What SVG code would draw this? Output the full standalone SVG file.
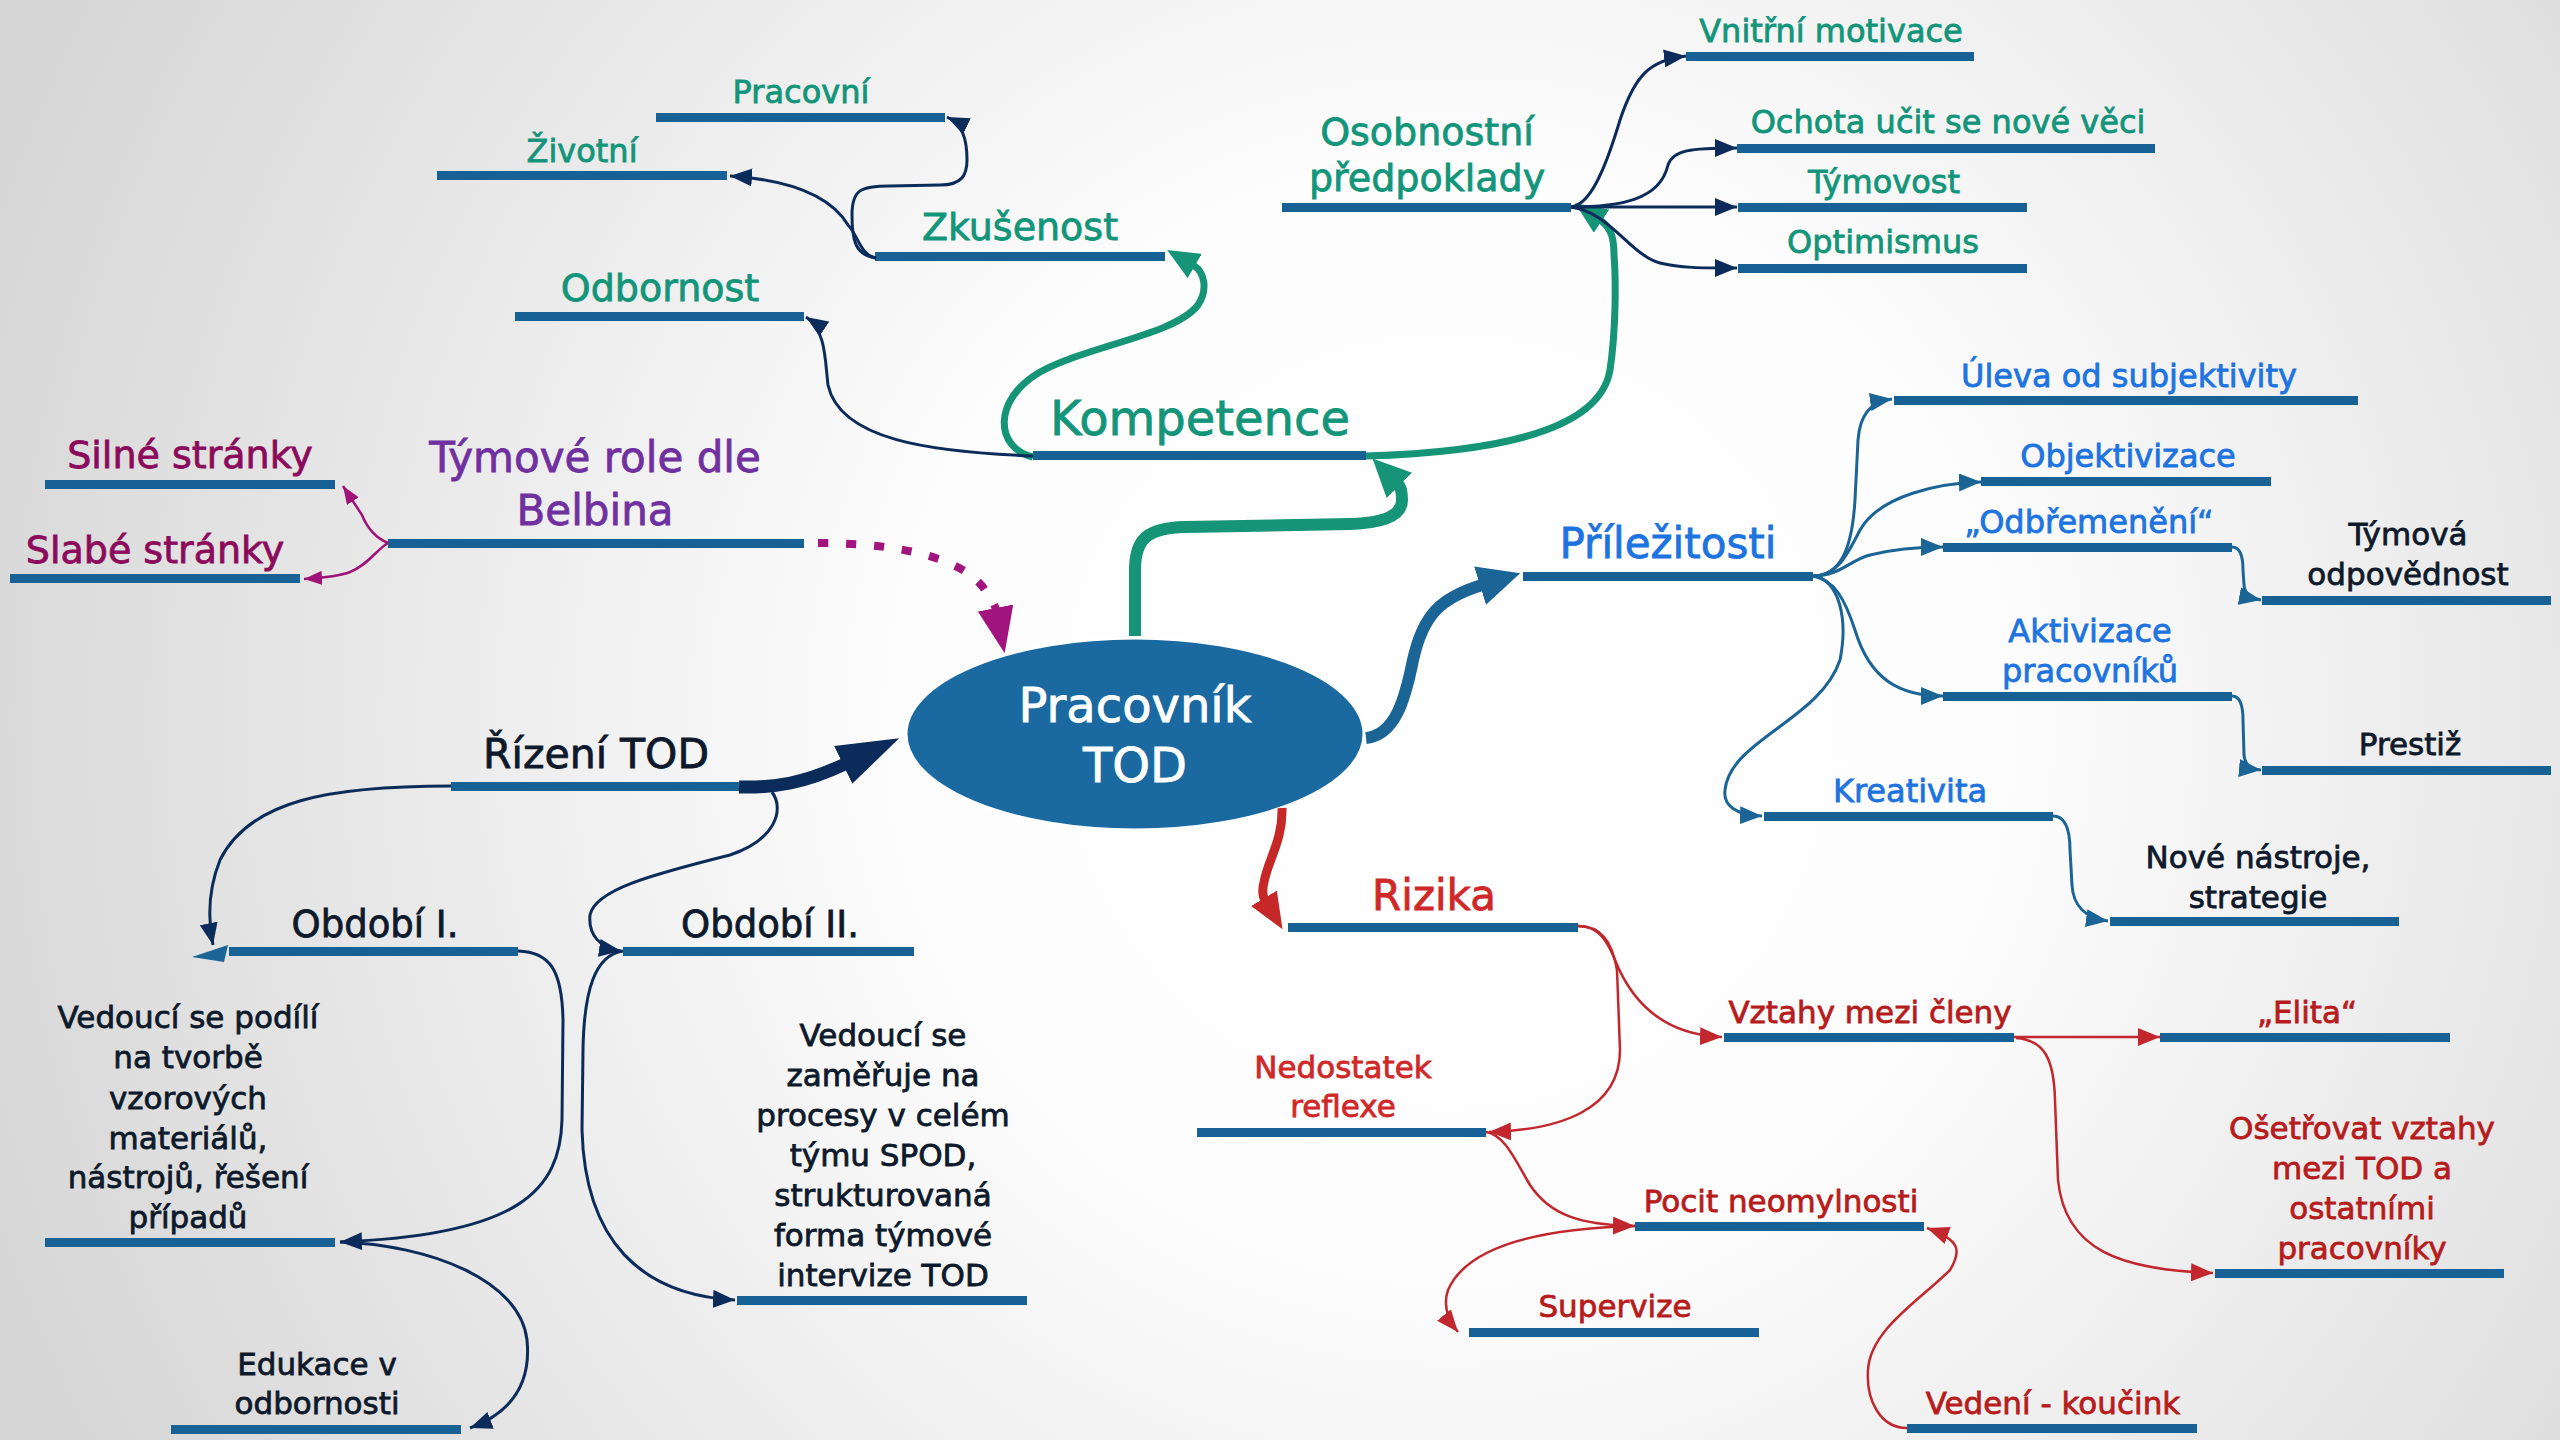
<svg xmlns="http://www.w3.org/2000/svg" width="2560" height="1440" viewBox="0 0 2560 1440">
<defs>
<radialGradient id="bg" gradientUnits="userSpaceOnUse" cx="1450" cy="720" r="1550">
<stop offset="0" stop-color="#ffffff"/>
<stop offset="0.35" stop-color="#fdfdfd"/>
<stop offset="1" stop-color="#d6d6d6"/>
</radialGradient>
<marker id="mNavy" markerUnits="userSpaceOnUse" markerWidth="22" markerHeight="18" refX="22" refY="9" orient="auto"><path d="M0,0 L22,9 L0,18 z" fill="#0b2c5a"/></marker>
<marker id="mSteel" markerUnits="userSpaceOnUse" markerWidth="22" markerHeight="18" refX="22" refY="9" orient="auto"><path d="M0,0 L22,9 L0,18 z" fill="#1a6496"/></marker>
<marker id="mRed" markerUnits="userSpaceOnUse" markerWidth="22" markerHeight="18" refX="22" refY="9" orient="auto"><path d="M0,0 L22,9 L0,18 z" fill="#c1272d"/></marker>
<marker id="mMag" markerUnits="userSpaceOnUse" markerWidth="18" markerHeight="14" refX="18" refY="7" orient="auto"><path d="M0,0 L18,7 L0,14 z" fill="#a0127a"/></marker>
<marker id="mGreenS" markerUnits="userSpaceOnUse" markerWidth="32" markerHeight="28" refX="2" refY="14" orient="auto"><path d="M0,0 L32,14 L0,28 z" fill="#169477"/></marker>
<marker id="mGreenB" markerUnits="userSpaceOnUse" markerWidth="38" markerHeight="36" refX="2" refY="18" orient="auto"><path d="M0,0 L38,18 L0,36 z" fill="#169477"/></marker>
<marker id="mNavyB" markerUnits="userSpaceOnUse" markerWidth="62" markerHeight="42" refX="2" refY="21" orient="auto"><path d="M0,0 L62,21 L0,42 z" fill="#0b2c5a"/></marker>
<marker id="mSteelB" markerUnits="userSpaceOnUse" markerWidth="42" markerHeight="40" refX="2" refY="20" orient="auto"><path d="M0,0 L42,20 L0,40 z" fill="#1a6496"/></marker>
<marker id="mRedB" markerUnits="userSpaceOnUse" markerWidth="36" markerHeight="30" refX="2" refY="15" orient="auto"><path d="M0,0 L36,15 L0,30 z" fill="#c62828"/></marker>
<marker id="mPurB" markerUnits="userSpaceOnUse" markerWidth="46" markerHeight="36" refX="2" refY="18" orient="auto"><path d="M0,0 L46,18 L0,36 z" fill="#a2157e"/></marker>
</defs>
<style>
text { font-family: "DejaVu Sans", "Noto Sans", sans-serif; text-anchor: middle; stroke-width: 0.8px; }
.bar { fill: #186195; }
.s { font-size: 32px; }
.b { font-size: 31px; }
.m { font-size: 38px; }
.l { font-size: 42px; }
.green { fill: #13957a; stroke: #13957a; }
.blue { fill: #1d74e0; stroke: #1d74e0; }
.dark { fill: #0e1a2b; stroke: #0e1a2b; }
.purple { fill: #7030a0; stroke: #7030a0; }
.mag { fill: #8b0a5c; stroke: #8b0a5c; }
.red { fill: #b71c1c; stroke: #b71c1c; }
.redb { fill: #d02828; stroke: #d02828; }
.white { fill: #ffffff; stroke: #ffffff; font-size: 48px; }
.c { fill: none; stroke-linecap: butt; }
.cn { stroke: #0b2c5a; stroke-width: 3; marker-end: url(#mNavy); }
.cs { stroke: #1a6496; stroke-width: 3; marker-end: url(#mSteel); }
.cr { stroke: #c1272d; stroke-width: 2.5; marker-end: url(#mRed); }
.cm { stroke: #a0127a; stroke-width: 2.5; marker-end: url(#mMag); }
</style>
<rect x="0" y="0" width="2560" height="1440" fill="url(#bg)"/>

<g id="nodes">
<g id="center"><ellipse cx="1135" cy="734" rx="229" ry="96" fill="#1a6aa1" stroke="#ffffff" stroke-width="3"/><text class="white" x="1135" y="722">Pracovník</text><text class="white" x="1135" y="782">TOD</text></g>

<g id="kompetence"><rect class="bar" x="1033" y="451" width="333" height="9"/><text class="green" x="1200" y="435" font-size="48">Kompetence</text></g>
<g id="pracovni"><rect class="bar" x="656" y="113" width="289" height="9"/><text class="green s" x="801" y="103">Pracovní</text></g>
<g id="zivotni"><rect class="bar" x="437" y="171" width="290" height="9"/><text class="green s" x="582" y="162">Životní</text></g>
<g id="zkusenost"><rect class="bar" x="875" y="252" width="290" height="9"/><text class="green m" x="1020" y="240">Zkušenost</text></g>
<g id="odbornost"><rect class="bar" x="515" y="312" width="289" height="9"/><text class="green m" x="660" y="301">Odbornost</text></g>
<g id="osobnostni"><rect class="bar" x="1282" y="203" width="289" height="9"/><text class="green m" x="1427" y="145">Osobnostní</text><text class="green m" x="1427" y="191">předpoklady</text></g>
<g id="vnitrni"><rect class="bar" x="1686" y="52" width="288" height="9"/><text class="green s" x="1831" y="42">Vnitřní motivace</text></g>
<g id="ochota"><rect class="bar" x="1737" y="144" width="418" height="9"/><text class="green s" x="1948" y="133">Ochota učit se nové věci</text></g>
<g id="tymovost"><rect class="bar" x="1738" y="203" width="289" height="9"/><text class="green s" x="1884" y="193">Týmovost</text></g>
<g id="optimismus"><rect class="bar" x="1738" y="264" width="289" height="9"/><text class="green s" x="1883" y="253">Optimismus</text></g>

<g id="prilezitosti"><rect class="bar" x="1523" y="572" width="290" height="9"/><text class="blue l" x="1668" y="558">Příležitosti</text></g>
<g id="uleva"><rect class="bar" x="1894" y="396" width="464" height="9"/><text class="blue s" x="2129" y="387">Úleva od subjektivity</text></g>
<g id="objektivizace"><rect class="bar" x="1981" y="477" width="290" height="9"/><text class="blue s" x="2128" y="467">Objektivizace</text></g>
<g id="odbremeneni"><rect class="bar" x="1943" y="543" width="289" height="9"/><text class="blue s" x="2089" y="533">„Odbřemenění“</text></g>
<g id="tymova"><rect class="bar" x="2262" y="596" width="289" height="9"/><text class="dark b" x="2408" y="545">Týmová</text><text class="dark b" x="2408" y="585">odpovědnost</text></g>
<g id="aktivizace"><rect class="bar" x="1943" y="692" width="289" height="9"/><text class="blue s" x="2090" y="642">Aktivizace</text><text class="blue s" x="2090" y="682">pracovníků</text></g>
<g id="prestiz"><rect class="bar" x="2262" y="766" width="289" height="9"/><text class="dark b" x="2410" y="755">Prestiž</text></g>
<g id="kreativita"><rect class="bar" x="1764" y="812" width="289" height="9"/><text class="blue s" x="1910" y="802">Kreativita</text></g>
<g id="nove"><rect class="bar" x="2110" y="917" width="289" height="9"/><text class="dark b" x="2258" y="868">Nové nástroje,</text><text class="dark b" x="2258" y="908">strategie</text></g>

<g id="belbin"><rect class="bar" x="388" y="539" width="416" height="9"/><text class="purple l" x="595" y="472">Týmové role dle</text><text class="purple l" x="595" y="525">Belbina</text></g>
<g id="silne"><rect class="bar" x="45" y="480" width="290" height="9"/><text class="mag m" x="190" y="468">Silné stránky</text></g>
<g id="slabe"><rect class="bar" x="10" y="574" width="290" height="9"/><text class="mag m" x="155" y="563">Slabé stránky</text></g>

<g id="rizeni"><rect class="bar" x="451" y="782" width="288" height="9"/><text class="dark" x="596" y="768" font-size="41">Řízení TOD</text></g>
<g id="obdobi1"><rect class="bar" x="229" y="947" width="289" height="9"/><text class="dark" x="375" y="937" font-size="37">Období I.</text><polygon points="192,957 228,945 224,962" fill="#1a6496"/></g>
<g id="obdobi2"><rect class="bar" x="623" y="947" width="291" height="9"/><text class="dark" x="770" y="937" font-size="37">Období II.</text></g>
<g id="vedouci1"><rect class="bar" x="45" y="1238" width="290" height="9"/>
<text class="dark b" x="188" y="1028">Vedoucí se podílí</text>
<text class="dark b" x="188" y="1068">na tvorbě</text>
<text class="dark b" x="188" y="1109">vzorových</text>
<text class="dark b" x="188" y="1149">materiálů,</text>
<text class="dark b" x="188" y="1188">nástrojů, řešení</text>
<text class="dark b" x="188" y="1228">případů</text></g>
<g id="edukace"><rect class="bar" x="171" y="1425" width="290" height="9"/><text class="dark b" x="317" y="1375">Edukace v</text><text class="dark b" x="317" y="1414">odbornosti</text></g>
<g id="vedouci2"><rect class="bar" x="737" y="1296" width="290" height="9"/>
<text class="dark b" x="883" y="1046">Vedoucí se</text>
<text class="dark b" x="883" y="1086">zaměřuje na</text>
<text class="dark b" x="883" y="1126">procesy v celém</text>
<text class="dark b" x="883" y="1166">týmu SPOD,</text>
<text class="dark b" x="883" y="1206">strukturovaná</text>
<text class="dark b" x="883" y="1246">forma týmové</text>
<text class="dark b" x="883" y="1286">intervize TOD</text></g>

<g id="rizika"><rect class="bar" x="1288" y="923" width="290" height="9"/><text class="redb l" x="1434" y="910">Rizika</text></g>
<g id="vztahy"><rect class="bar" x="1724" y="1033" width="290" height="9"/><text class="red b" x="1870" y="1023">Vztahy mezi členy</text></g>
<g id="elita"><rect class="bar" x="2160" y="1033" width="290" height="9"/><text class="red b" x="2307" y="1023">„Elita“</text></g>
<g id="nedostatek"><rect class="bar" x="1197" y="1128" width="289" height="9"/><text class="redb b" x="1343" y="1078">Nedostatek</text><text class="redb b" x="1343" y="1117">reflexe</text></g>
<g id="pocit"><rect class="bar" x="1635" y="1222" width="289" height="9"/><text class="red b" x="1781" y="1212">Pocit neomylnosti</text></g>
<g id="osetrovat"><rect class="bar" x="2215" y="1269" width="289" height="9"/>
<text class="red b" x="2362" y="1139">Ošetřovat vztahy</text>
<text class="red b" x="2362" y="1179">mezi TOD a</text>
<text class="red b" x="2362" y="1219">ostatními</text>
<text class="red b" x="2362" y="1259">pracovníky</text></g>
<g id="supervize"><rect class="bar" x="1469" y="1328" width="290" height="9"/><text class="red b" x="1615" y="1317">Supervize</text></g>
<g id="vedeni"><rect class="bar" x="1907" y="1424" width="290" height="9"/><text class="red b" x="2053" y="1414">Vedení - koučink</text></g>
</g>

<g id="connectors">
<!-- Kompetence branch -->
<path class="c" d="M1135 636 L1135 570 C1135 538 1148 528 1185 527 L1350 524 C1385 523 1402 515 1402 500 C1402 492 1401 487 1398 484" stroke="#169477" stroke-width="12" marker-end="url(#mGreenB)"/>
<path class="c" d="M1033 457 C995 448 992 400 1040 372 C1090 345 1175 335 1198 305 C1208 290 1205 272 1193 265" stroke="#169477" stroke-width="7" marker-end="url(#mGreenS)"/>
<path class="c" d="M1366 456 C1500 452 1600 430 1610 370 C1616 330 1616 280 1614 255 C1614 240 1612 228 1600 220" stroke="#169477" stroke-width="7" marker-end="url(#mGreenS)"/>
<path class="c cn" d="M1033 456 C930 452 840 440 828 385 C825 360 826 330 806 317"/>
<path class="c cn" d="M876 258 C860 255 858 235 848 225 C830 195 790 180 730 176"/>
<path class="c cn" d="M876 258 C855 255 852 240 852 215 C852 190 860 186 890 186 L940 185 C962 185 967 175 967 160 C967 138 962 124 947 117"/>
<path class="c cn" d="M1571 207 C1590 205 1605 170 1620 120 C1635 75 1650 60 1686 56"/>
<path class="c cn" d="M1571 207 C1620 207 1660 200 1668 165 C1673 150 1690 148 1737 148"/>
<path class="c cn" d="M1571 207 L1737 207"/>
<path class="c cn" d="M1571 207 C1610 212 1630 255 1660 263 C1680 268 1700 268 1737 268"/>
<!-- Belbin -->
<path class="c cm" d="M388 543 C376 538 368 530 362 515 L343 486"/>
<path class="c cm" d="M388 543 C376 550 368 565 350 572 C340 576 320 578 304 579"/>
<path class="c" d="M818 543 C905 543 965 560 985 590 C992 600 995 605 996 610" stroke="#a2157e" stroke-width="8" stroke-dasharray="10 18" stroke-linecap="round" marker-end="url(#mPurB)"/>
<!-- Rizeni -->
<path class="c" d="M739 787 C775 788 805 783 845 764" stroke="#0b2c5a" stroke-width="13" marker-end="url(#mNavyB)"/>
<path class="c cn" d="M451 786 C330 786 250 800 220 860 C208 890 208 920 213 945"/>
<path class="c cn" d="M772 792 C785 810 775 840 730 855 C650 875 595 890 590 915 C588 935 600 948 621 951"/>
<path class="c cn" d="M518 951 C550 952 562 970 563 1020 L562 1120 C560 1190 520 1235 340 1242"/>
<path class="c cn" d="M340 1242 C430 1245 520 1280 527 1340 C532 1390 505 1415 470 1428"/>
<path class="c cn" d="M623 951 C595 955 584 990 583 1050 L582 1130 C585 1240 640 1295 735 1300"/>
<!-- Prilezitosti -->
<path class="c" d="M1366 738 C1395 735 1405 700 1413 660 C1423 615 1440 598 1482 585" stroke="#1a6496" stroke-width="12" marker-end="url(#mSteelB)"/>
<path class="c cs" d="M1813 576 C1840 576 1852 550 1855 500 L1858 440 C1860 415 1870 402 1892 399"/>
<path class="c cs" d="M1813 576 C1835 576 1845 560 1860 530 C1880 495 1940 483 1981 482"/>
<path class="c cs" d="M1813 576 C1840 576 1850 560 1870 555 C1890 550 1910 547 1943 547"/>
<path class="c cs" d="M1813 576 C1835 580 1845 600 1855 630 C1870 680 1900 696 1943 696"/>
<path class="c cs" d="M1813 576 C1840 580 1848 620 1840 660 C1820 720 1730 740 1725 790 C1723 805 1735 815 1762 816"/>
<path class="c cs" d="M2232 547 C2240 547 2243 555 2243 570 L2244 585 C2245 595 2250 598 2261 600"/>
<path class="c cs" d="M2232 696 C2240 696 2243 705 2243 720 L2244 755 C2245 765 2250 769 2261 770"/>
<path class="c cs" d="M2053 816 C2065 816 2070 830 2070 850 L2072 885 C2073 905 2085 918 2108 921"/>
<!-- Rizika -->
<path class="c" d="M1282 808 C1283 840 1268 860 1264 882 C1262 890 1262 895 1265 900" stroke="#c62828" stroke-width="9" marker-end="url(#mRedB)"/>
<path class="c cr" d="M1578 926 C1595 926 1605 935 1615 960 C1635 1010 1670 1035 1722 1037"/>
<path class="c cr" d="M1578 926 C1600 926 1612 940 1617 970 L1620 1050 C1620 1110 1560 1130 1489 1132"/>
<path class="c cr" d="M2014 1037 L2160 1037"/>
<path class="c cr" d="M2016 1038 C2045 1040 2054 1060 2055 1100 L2058 1180 C2065 1250 2120 1270 2213 1273"/>
<path class="c cr" d="M1486 1132 C1505 1135 1515 1160 1530 1185 C1550 1215 1580 1225 1635 1226"/>
<path class="c cr" d="M1635 1226 C1560 1228 1470 1240 1448 1290 C1443 1305 1448 1320 1458 1332"/>
<path class="c cr" d="M1907 1428 C1880 1428 1866 1400 1868 1370 C1870 1330 1920 1300 1950 1270 C1962 1250 1960 1240 1927 1228"/>
</g>
</svg>
